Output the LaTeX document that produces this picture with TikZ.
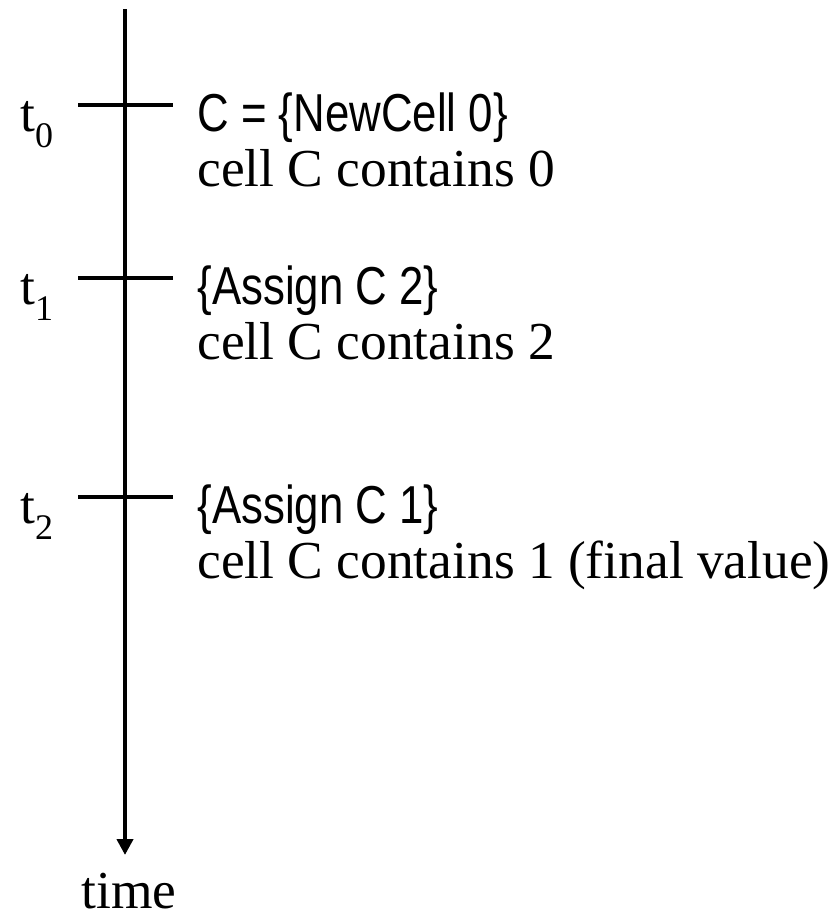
\documentclass[tikz,border=0pt]{standalone}
\usepackage{fontspec}
\setmainfont{Liberation Serif}
\newfontfamily\codefont[FakeStretch=0.82]{Liberation Sans}
\usetikzlibrary{arrows.meta}

\begin{document}
\begin{tikzpicture}[x=0.5pt,y=-0.5pt,line width=2.4pt,
	txt/.style={anchor=base west,inner sep=0pt,font=\fontsize{26.7}{32}\selectfont},
	code/.style={txt,font=\fontsize{26.7}{32}\selectfont\codefont}]
\useasboundingbox (0,0) rectangle (830,917);

\coordinate (top) at (125,9);
\coordinate (tip) at (125,855);
\draw[-{Triangle[length=8pt,width=8pt]}] (top) -- (tip); %time axis
\node[txt,anchor=base] (time) at (129,908) {time};

\foreach \i/\y/\op/\val in {0/105/C = \{NewCell 0\}/0, 1/278/\{Assign C 2\}/2, 2/497/\{Assign C 1\}/1 (final value)}
{	\coordinate (l\i) at (78,\y);
	\coordinate (r\i) at (173,\y);
	\draw (l\i) -- (r\i); %tick
	\node[txt] (t\i) at (18,\y+26) {t\raisebox{-0.3em}{\fontsize{18}{18}\selectfont\i}};
	\node[code] (op\i) at (195,\y+26) {\op};
	\node[txt] (st\i) at (195,\y+81) {cell C contains \val};
}
\end{tikzpicture}
\end{document}
